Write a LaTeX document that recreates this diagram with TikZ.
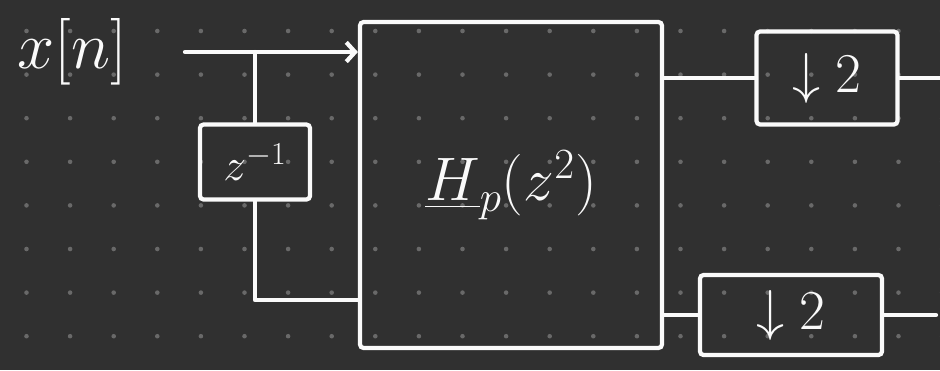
\RequirePackage{fix-cm}
\documentclass[tikz,border=0pt]{standalone}
\usepackage{xcolor}
\usepackage{amsmath}
\usepackage{tikz}
\usetikzlibrary{arrows.meta, positioning, calc}
\definecolor{bgdark}{RGB}{48,48,48}
\definecolor{gdot}{RGB}{105,105,105}
\definecolor{chalk}{RGB}{250,250,250}
\tikzset{
  block/.style={rectangle, draw=chalk, line width=2.4pt,
    text=chalk, align=center, rounded corners=2pt},
  arrow/.style={-{Straight Barb[length=5pt,width=11pt]}, line width=2.4pt,
    color=chalk, line cap=round},
  line/.style={line width=2.4pt, color=chalk, line cap=round, line join=round}
}

\begin{document}
\begin{tikzpicture}[x=0.02cm, y=-0.02cm]
  % Background and dot grid
  \fill[bgdark] (0,0) rectangle (940,370);
  \useasboundingbox (0,0) rectangle (940,370);
  \foreach \i in {0,...,21}
    \foreach \j in {0,...,7}
      \fill[gdot] (26.5+43.6*\i, 31+43.6*\j) circle (1.3pt);
  % Blocks
  \node[block, minimum width=6.04cm, minimum height=6.52cm] (hp) at (511,185)
    {\fontsize{35}{42}\selectfont $\underline{H}_p(z^2)$};
  \node[block, minimum width=2.2cm, minimum height=1.5cm] (delay) at (255,162)
    {\fontsize{26}{30}\selectfont $z^{-1}$};
  \node[block, minimum width=2.82cm, minimum height=1.86cm] (dsa) at (827,78)
    {\fontsize{32}{38}\selectfont $\downarrow 2$};
  \node[block, minimum width=3.64cm, minimum height=1.6cm] (dsb) at (791,315)
    {\fontsize{32}{38}\selectfont $\downarrow 2$};
  % Input
  \node[text=chalk, font=\fontsize{38}{44}\selectfont] (xin) at (72,52) {$x[n]$};
  \coordinate (in) at (185,52);
  \coordinate (br) at (255,52);
  \coordinate (lowin) at (hp.west |- 0,300);
  \draw[arrow] (in) -- (in -| hp.west);
  \draw[line] (br) -- (delay.north);
  \draw[line] (delay.south) |- (lowin);
  % Outputs
  \coordinate (outa) at (940,78);
  \coordinate (outb) at (936,315);
  \draw[line] (hp.east |- dsa.west) -- (dsa.west);
  \draw[line] (dsa.east) -- (outa);
  \draw[line] (hp.east |- dsb.west) -- (dsb.west);
  \draw[line] (dsb.east) -- (outb);
\end{tikzpicture}
\end{document}
